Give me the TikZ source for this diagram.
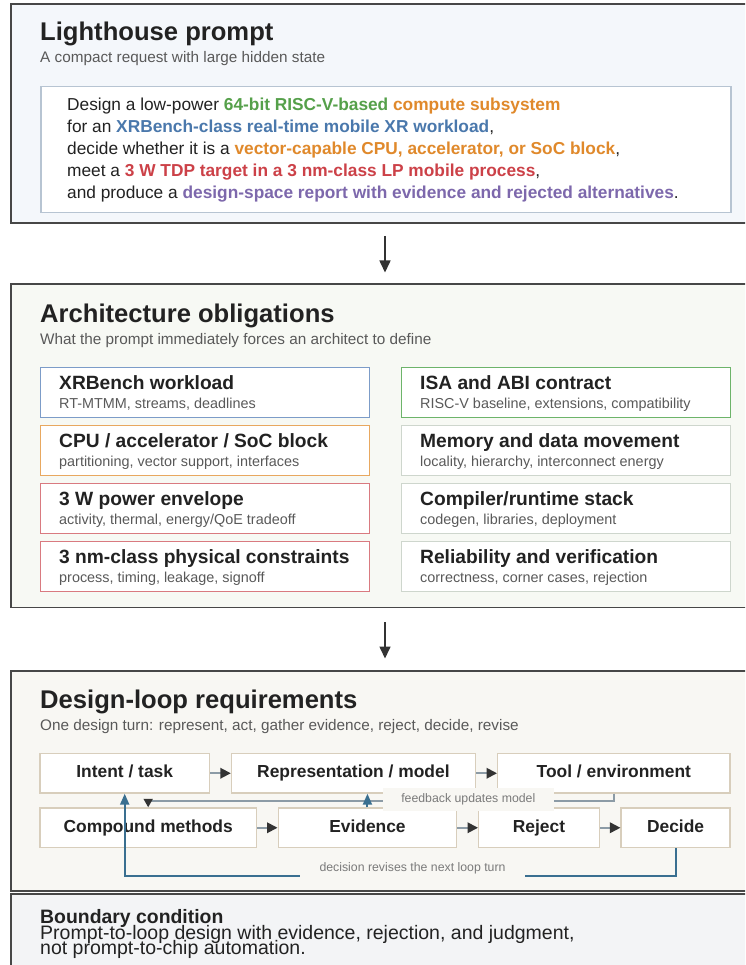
\documentclass[tikz,border=0pt]{standalone}
\usepackage{fontspec}
\setmainfont{Liberation Sans}
\usetikzlibrary{arrows.meta,calc}

\definecolor{ink}{HTML}{222222}
\definecolor{subink}{HTML}{595959}
\definecolor{frame}{HTML}{474747}
\definecolor{bgA}{HTML}{F4F7FB}
\definecolor{bgB}{HTML}{F7F9F4}
\definecolor{bgC}{HTML}{F8F7F3}
\definecolor{bgD}{HTML}{F3F4F6}
\definecolor{promptline}{HTML}{B7C4D2}
\definecolor{cGreen}{HTML}{55A04A}
\definecolor{cOrange}{HTML}{E0892B}
\definecolor{cBlue}{HTML}{4A78AC}
\definecolor{cRed}{HTML}{CC4148}
\definecolor{cPurple}{HTML}{7D68AC}
\definecolor{bxBlue}{HTML}{7C9CC8}
\definecolor{bxOrange}{HTML}{E8A860}
\definecolor{bxRed}{HTML}{D97A80}
\definecolor{bxGreen}{HTML}{6DB46A}
\definecolor{bxGray}{HTML}{CED6CD}
\definecolor{loopline}{HTML}{D8CEBC}
\definecolor{fbgray}{HTML}{8C9BA6}
\definecolor{loopblue}{HTML}{3A6F90}
\definecolor{labelgray}{HTML}{7A7A7A}
\definecolor{tipdark}{HTML}{333333}

\newcommand\setfs[1]{\fontsize{#1}{#1}\selectfont}
\newcommand\hl[2]{{\bfseries\color{#1}#2}}

\tikzset{
  panel/.style={draw=frame, line width=1.7pt, rectangle, anchor=north west, inner sep=0pt},
  ptitle/.style={anchor=base west, inner sep=0pt, text=ink, font=\bfseries\setfs{25.6}},
  psub/.style={anchor=base west, inner sep=0pt, text=subink, font=\setfs{15.3}},
  pline/.style={anchor=base west, inner sep=0pt, text=ink, font=\setfs{17.3}},
  oblbox/.style={draw=#1, line width=1.4pt, fill=white, rectangle, anchor=north west,
    inner sep=0pt, minimum width=328.5, minimum height=50},
  obltitle/.style={anchor=base west, inner sep=0pt, text=ink, font=\bfseries\setfs{19.2}},
  oblsub/.style={anchor=base west, inner sep=0pt, text=subink, font=\setfs{14.4}},
  loopbox/.style={draw=loopline, line width=1.4pt, fill=white, rectangle, anchor=north west,
    inner sep=0pt, minimum height=39.5, text height=12.6pt, text depth=3.2pt,
    text=ink, font=\bfseries\setfs{17.4}},
  flow/.style={draw=fbgray, line width=1.9pt, -{Triangle[length=10.5pt,width=10.5pt,color=tipdark]}},
  fbpath/.style={draw=fbgray, line width=1.9pt, -{Triangle[length=8.5pt,width=9pt,color=tipdark]}},
  bluepath/.style={draw=loopblue, line width=2pt, -{Triangle[length=11pt,width=9pt]}},
  mainarrow/.style={draw=tipdark, line width=1.6pt, -{Triangle[length=12pt,width=11pt]}},
  looplabel/.style={fill=bgC, inner sep=0pt, text=labelgray, font=\setfs{12.3}},
  bndtext/.style={anchor=base west, inner sep=0pt, text=ink, font=\setfs{19.5}},
}

\begin{document}
\begin{tikzpicture}[x=1pt, y=-1pt]
\useasboundingbox (0,0) rectangle (745,965);
\clip (0,0) rectangle (745,965);

% ---------- panel A: the prompt ----------
\node[panel, fill=bgA, minimum width=800, minimum height=219] (pA) at (10,3) {};
\node[ptitle] (tA) at (40,41) {Lighthouse prompt};
\node[psub] (sA) at (40,62.5) {A compact request with large hidden state};
\node[draw=promptline, line width=1.5pt, fill=white, rectangle, anchor=north west,
  inner sep=0pt, minimum width=690, minimum height=126] (prompt) at (40,86) {};
\node[pline] (l1) at (67,110.5) {Design a low-power \hl{cGreen}{64-bit RISC-V-based} \hl{cOrange}{compute subsystem}};
\node[pline] (l2) at (67,132.5) {for an \hl{cBlue}{XRBench-class real-time mobile XR workload},};
\node[pline] (l3) at (67,154.5) {decide whether it is a \hl{cOrange}{vector-capable CPU, accelerator, or SoC block},};
\node[pline] (l4) at (67,176.5) {meet a \hl{cRed}{3 W TDP target in a 3 nm-class LP mobile process},};
\node[pline] (l5) at (67,198.5) {and produce a \hl{cPurple}{design-space report with evidence and rejected alternatives}.};

\coordinate (d1a) at (385,236);
\coordinate (d1b) at (385,272.5);
\draw[mainarrow] (d1a) -- (d1b);

% ---------- panel B: obligations ----------
\node[panel, fill=bgB, minimum width=800, minimum height=323.7] (pB) at (10,283) {};
\node[ptitle] (tB) at (40,322) {Architecture obligations};
\node[psub] (sB) at (40,344.5) {What the prompt immediately forces an architect to define};

\node[oblbox=bxBlue]   (o1) at (40,367) {};
\node[oblbox=bxOrange] (o2) at (40,425) {};
\node[oblbox=bxRed]    (o3) at (40,483) {};
\node[oblbox=bxRed]    (o4) at (40,541) {};
\node[oblbox=bxGreen]  (o5) at (401,367) {};
\node[oblbox=bxGray]   (o6) at (401,425) {};
\node[oblbox=bxGray]   (o7) at (401,483) {};
\node[oblbox=bxGray]   (o8) at (401,541) {};

\foreach \b/\t/\s in {
  o1/{XRBench workload}/{RT-MTMM, streams, deadlines},
  o2/{CPU / accelerator / SoC block}/{partitioning, vector support, interfaces},
  o3/{3 W power envelope}/{activity, thermal, energy/QoE tradeoff},
  o4/{3 nm-class physical constraints}/{process, timing, leakage, signoff},
  o5/{ISA and ABI contract}/{RISC-V baseline, extensions, compatibility},
  o6/{Memory and data movement}/{locality, hierarchy, interconnect energy},
  o7/{Compiler/runtime stack}/{codegen, libraries, deployment},
  o8/{Reliability and verification}/{correctness, corner cases, rejection}}{
  \node[obltitle] (\b t) at ($(\b.north west)+(19,22)$) {\t};
  \node[oblsub]   (\b s) at ($(\b.north west)+(19,41.5)$) {\s};
}

\coordinate (d2a) at (385,622);
\coordinate (d2b) at (385,658.5);
\draw[mainarrow] (d2a) -- (d2b);

% ---------- panel C: design loop ----------
\node[panel, fill=bgC, minimum width=800, minimum height=220] (pC) at (10,670) {};
\node[ptitle] (tC) at (40,708) {Design-loop requirements};
\node[psub] (sC) at (40,730.5) {One design turn: represent, act, gather evidence, reject, decide, revise};

\node[loopbox, minimum width=169.2] (int)  at (39.4,752.8) {Intent / task};
\node[loopbox, minimum width=243.8] (rep)  at (230.8,752.8) {Representation / model};
\node[loopbox, minimum width=232.3] (tool) at (497,752.8) {Tool / environment};
\node[loopbox, minimum width=216.2] (cmp)  at (39.4,807.3) {Compound methods};
\node[loopbox, minimum width=178.5] (ev)   at (277.5,807.3) {Evidence};
\node[loopbox, minimum width=120.6] (rej)  at (478,807.3) {Reject};
\node[loopbox, minimum width=109]   (dec)  at (620.4,807.3) {Decide};

\draw[flow] (int) -- (rep);
\draw[flow] (rep) -- (tool);
\draw[flow] (cmp) -- (ev);
\draw[flow] (ev) -- (rej);
\draw[flow] (rej) -- (dec);

\draw[fbpath] (tool.south) -- ++(0,7.7) -| (cmp.north);
\draw[bluepath] (ev.north) -- (ev.north |- rep.south);
\draw[bluepath] (dec.south) -- ++(0,27.3) -| (int.south);

\node[looplabel, minimum width=171, minimum height=22.5] (fbl) at (468.3,799.5) {feedback updates model};
\node[looplabel, minimum width=225, minimum height=22] (dcl) at (412.5,868) {decision revises the next loop turn};

% ---------- panel D: boundary ----------
\node[panel, fill=bgD, minimum width=800, minimum height=120] (pD) at (10,893) {};
\node[bndtext, font=\bfseries\setfs{19.4}] (bt) at (40,923.3) {Boundary condition};
\node[bndtext] (b1) at (40,939.5) {Prompt-to-loop design with evidence, rejection, and judgment,};
\node[bndtext] (b2) at (40,954) {not prompt-to-chip automation.};
\end{tikzpicture}
\end{document}
